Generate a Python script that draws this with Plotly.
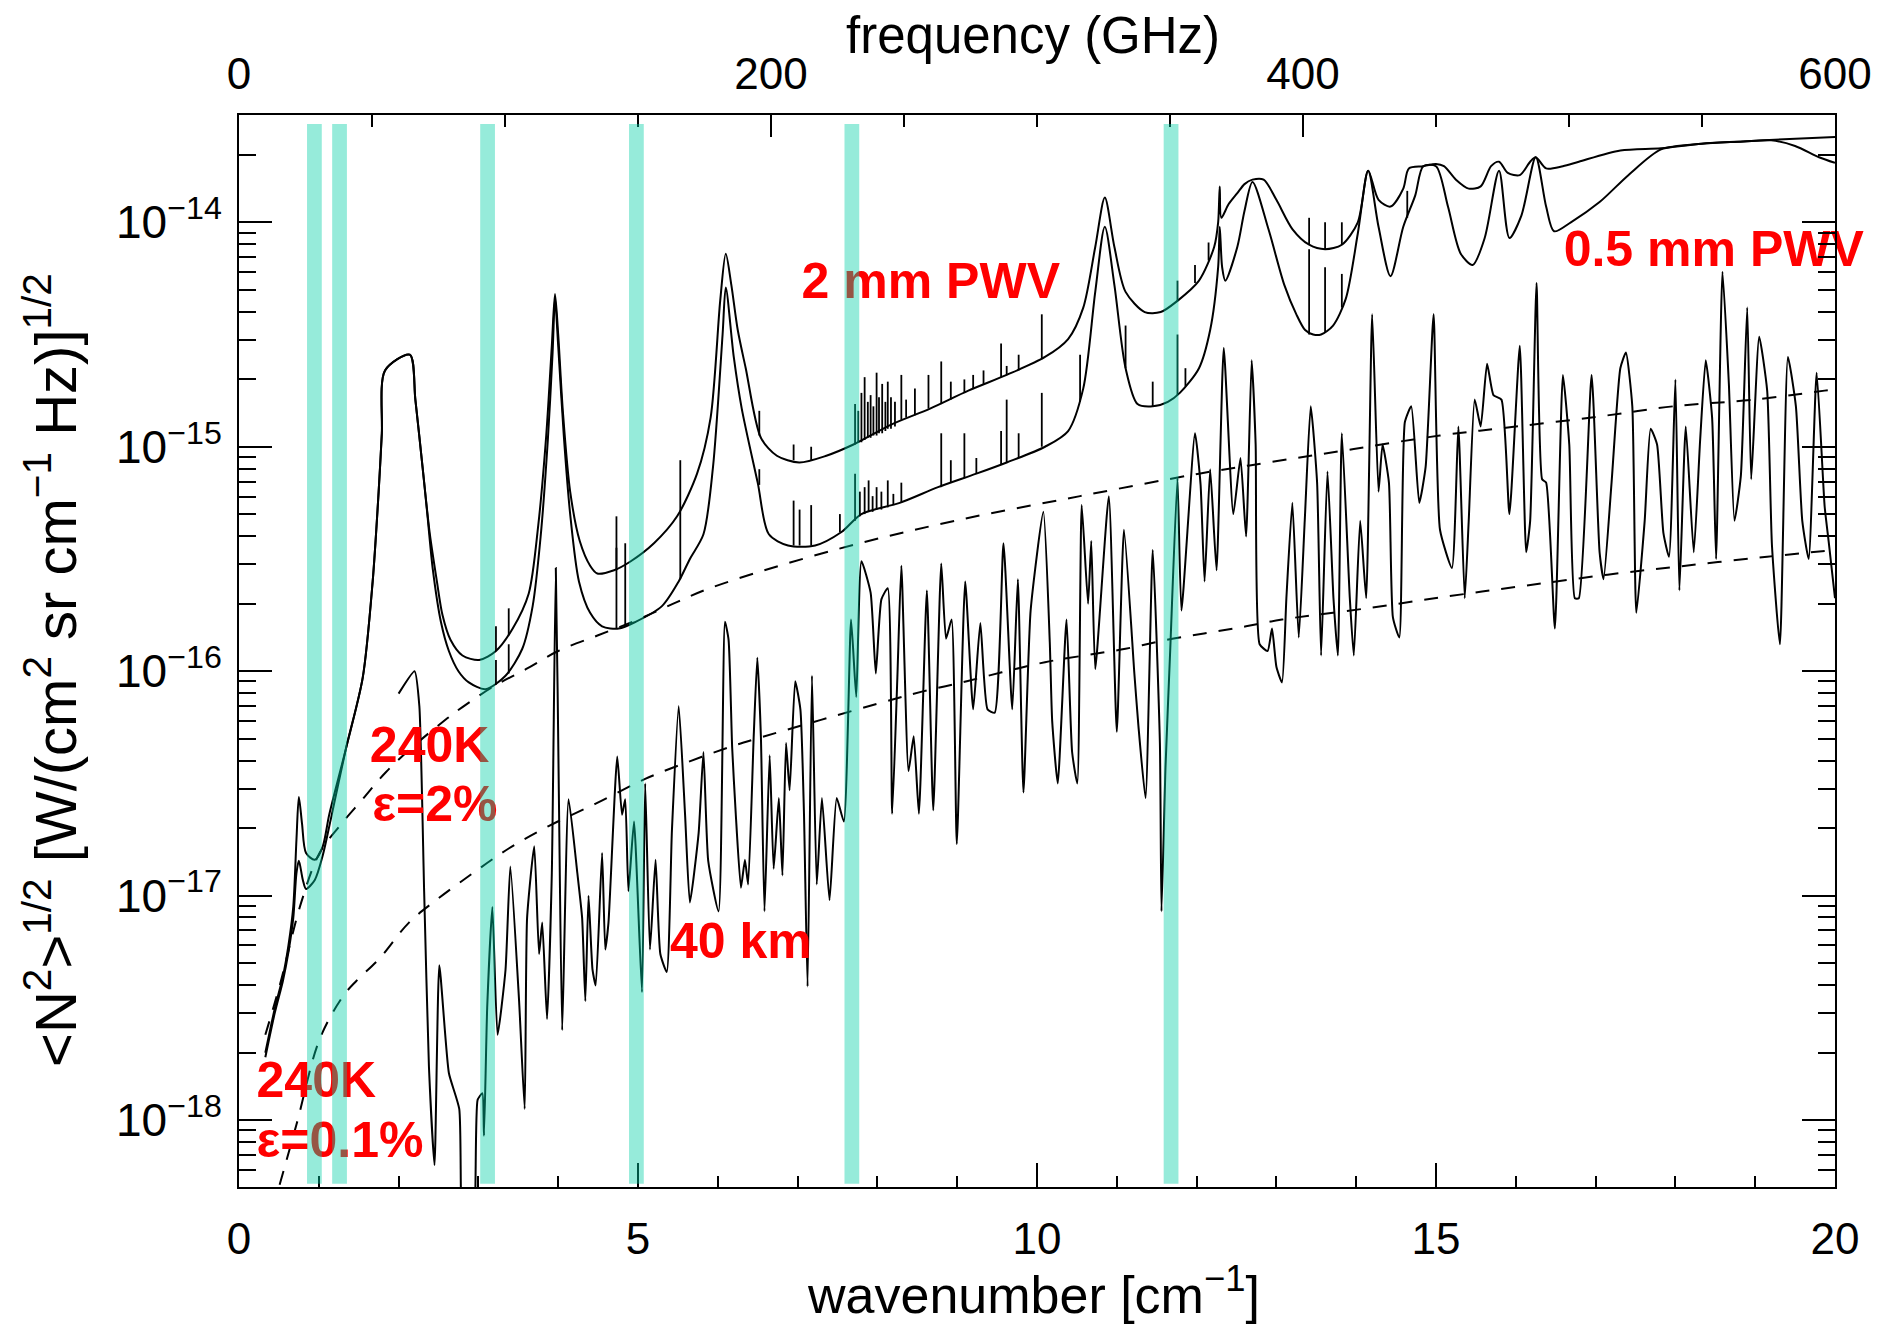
import numpy as np
import plotly.graph_objects as go

# ---------------- data (log10 of <N^2>^1/2) ----------------
# 2 mm PWV atmosphere
pwv2_wn = [0.33, 0.45, 0.55, 0.62, 0.68, 0.72, 0.75, 0.79, 0.84, 0.95, 1.05, 1.13, 1.34, 1.55, 1.675,
           1.75, 1.79, 1.83, 2.14, 2.21, 2.30, 2.39, 2.48, 2.55, 2.65, 2.80, 3.01, 3.22, 3.43, 3.63,
           3.75, 3.85, 3.92, 3.96, 4.00, 4.06, 4.15, 4.27, 4.40, 4.49, 4.70, 4.91, 5.20, 5.49, 5.74,
           5.91, 6.03, 6.10, 6.17, 6.25, 6.35, 6.54, 6.74, 7.02, 7.36, 7.70, 8.18, 8.66, 9.14, 9.62,
           10.10, 10.39, 10.58, 10.73, 10.85, 10.97, 11.11, 11.35, 11.55, 11.76, 12.03, 12.22, 12.27,
           12.29, 12.31, 12.40, 12.51, 12.60, 12.70, 12.84, 13.00, 13.20, 13.41, 13.61, 13.82, 14.02,
           14.15, 14.28, 14.43, 14.59, 14.66, 14.84, 15.00, 15.10, 15.25, 15.41, 15.56, 15.69, 15.79,
           15.90, 16.05, 16.18, 16.25, 16.38, 16.59, 16.79, 17.31, 17.82, 18.33, 18.85, 19.36, 20.0]
pwv2_log = [-17.70, -17.50, -17.36, -17.22, -17.05, -16.75, -16.56, -16.68, -16.81, -16.84, -16.78, -16.64,
            -16.345, -16.03, -15.60, -15.20, -14.94, -14.66, -14.59, -14.79, -15.09, -15.385, -15.60,
            -15.75, -15.86, -15.93, -15.95, -15.91, -15.81, -15.655, -15.35, -14.95, -14.55, -14.32,
            -14.50, -14.85, -15.20, -15.42, -15.53, -15.565, -15.55, -15.51, -15.43, -15.31, -15.12,
            -14.87, -14.35, -14.14, -14.28, -14.48, -14.65, -14.96, -15.04, -15.07, -15.04, -14.99,
            -14.90, -14.83, -14.75, -14.68, -14.60, -14.52, -14.38, -14.11, -13.89, -14.11, -14.31,
            -14.40, -14.40, -14.35, -14.26, -14.11, -14.00, -13.84, -13.98, -13.92, -13.87, -13.83,
            -13.81, -13.81, -13.90, -14.03, -14.10, -14.12, -14.10, -14.00, -13.77, -13.90, -13.93,
            -13.85, -13.76, -13.75, -13.74, -13.75, -13.81, -13.85, -13.84, -13.75, -13.73, -13.78,
            -13.79, -13.73, -13.71, -13.76, -13.75, -13.73, -13.68, -13.67, -13.65, -13.64, -13.63, -13.62]

# 0.5 mm PWV atmosphere
pwv05_wn = [0.33, 0.45, 0.55, 0.62, 0.68, 0.72, 0.75, 0.80, 0.84, 0.95, 1.05, 1.15, 1.34, 1.55, 1.675,
            1.75, 1.79, 1.83, 2.14, 2.21, 2.30, 2.36, 2.43, 2.53, 2.63, 2.75, 2.88, 3.09, 3.34, 3.55,
            3.68, 3.78, 3.87, 3.93, 3.96, 4.00, 4.07, 4.15, 4.26, 4.40, 4.55, 4.76, 4.97, 5.30, 5.51,
            5.65, 5.82, 5.94, 6.06, 6.10, 6.20, 6.30, 6.50, 6.64, 6.88, 7.22, 7.55, 7.80, 8.28, 8.76,
            9.24, 9.62, 10.10, 10.39, 10.58, 10.73, 10.85, 10.97, 11.11, 11.26, 11.45, 11.64, 11.79,
            12.03, 12.17, 12.27, 12.29, 12.32, 12.36, 12.51, 12.60, 12.70, 12.90, 13.10, 13.25, 13.36,
            13.46, 13.56, 13.71, 13.87, 14.02, 14.15, 14.28, 14.43, 14.59, 14.74, 14.84, 15.00, 15.15,
            15.31, 15.46, 15.61, 15.79, 15.92, 16.07, 16.25, 16.38, 16.48, 16.69, 17.05, 17.41, 17.82,
            18.33, 18.85, 19.20, 19.50, 19.80, 20.0]
pwv05_log = [-17.72, -17.52, -17.38, -17.25, -17.10, -16.90, -16.845, -16.93, -16.97, -16.93, -16.82,
             -16.66, -16.345, -16.03, -15.60, -15.20, -14.94, -14.66, -14.59, -14.79, -15.09, -15.30,
             -15.55, -15.78, -15.91, -16.00, -16.05, -16.08, -16.02, -15.90, -15.71, -15.40, -14.97,
             -14.58, -14.34, -14.55, -14.95, -15.30, -15.60, -15.74, -15.80, -15.81, -15.78, -15.71,
             -15.60, -15.50, -15.39, -15.09, -14.50, -14.29, -14.60, -14.83, -15.16, -15.39, -15.44,
             -15.44, -15.38, -15.30, -15.25, -15.18, -15.12, -15.07, -15.00, -14.93, -14.74, -14.31,
             -14.02, -14.28, -14.65, -14.81, -14.82, -14.80, -14.76, -14.65, -14.48, -14.20, -14.02,
             -14.20, -14.26, -14.11, -13.95, -13.82, -14.03, -14.28, -14.41, -14.48, -14.50, -14.50,
             -14.46, -14.34, -14.05, -13.77, -14.02, -14.24, -14.02, -13.88, -13.75, -13.75, -13.93,
             -14.14, -14.19, -14.07, -13.77, -14.07, -13.97, -13.71, -13.93, -14.04, -14.00, -13.91,
             -13.79, -13.675, -13.65, -13.64, -13.635, -13.66, -13.71, -13.735]

# narrow telluric lines: position, foot, top (log10)
spk2_wn = [3.22, 3.38, 4.73, 6.52, 6.95, 7.17, 7.72, 7.76, 7.80, 7.84, 7.88, 7.915, 7.95, 7.99, 8.02,
           8.06, 8.10, 8.13, 8.17, 8.22, 8.30, 8.36, 8.47, 8.64, 8.80, 8.92, 9.09, 9.20, 9.33, 9.55,
           9.62, 9.77, 9.89, 10.06, 11.76, 11.98, 12.15, 13.41, 13.61, 13.82]
spk2_lo = [-15.91, -15.84, -15.55, -14.95, -15.06, -15.06, -14.99, -14.98, -14.98, -14.97, -14.96, -14.96,
           -14.95, -14.95, -14.94, -14.94, -14.93, -14.92, -14.92, -14.91, -14.88, -14.87, -14.86, -14.83,
           -14.81, -14.79, -14.76, -14.74, -14.72, -14.69, -14.68, -14.66, -14.64, -14.61, -14.35, -14.27,
           -14.17, -14.10, -14.12, -14.10]
spk2_hi = [-15.80, -15.72, -15.31, -14.84, -14.99, -15.00, -14.81, -14.84, -14.76, -14.69, -14.80, -14.77,
           -14.82, -14.67, -14.78, -14.72, -14.80, -14.71, -14.78, -14.80, -14.68, -14.79, -14.74, -14.68,
           -14.62, -14.71, -14.70, -14.68, -14.66, -14.54, -14.64, -14.59, -14.64, -14.41, -14.26, -14.19,
           -14.09, -13.98, -14.00, -14.00]
spk05_wn = [3.22, 3.38, 4.73, 4.84, 5.53, 6.52, 6.95, 7.025, 7.17, 7.53, 7.72, 7.78, 7.84, 7.89, 7.94,
            7.99, 8.05, 8.13, 8.20, 8.30, 8.80, 8.92, 9.09, 9.24, 9.55, 9.62, 9.77, 10.06, 10.54, 11.11,
            11.45, 11.76, 11.86, 13.41, 13.61, 13.82, 14.64]
spk05_lo = [-16.06, -16.01, -15.81, -15.80, -15.59, -15.17, -15.44, -15.44, -15.44, -15.38, -15.33, -15.31,
            -15.30, -15.29, -15.29, -15.28, -15.28, -15.27, -15.26, -15.25, -15.18, -15.16, -15.14, -15.12,
            -15.08, -15.07, -15.05, -15.00, -14.80, -14.65, -14.82, -14.77, -14.73, -14.50, -14.49, -14.38,
            -13.98]
spk05_hi = [-15.95, -15.88, -15.45, -15.43, -15.06, -15.10, -15.24, -15.28, -15.26, -15.30, -15.12, -15.20,
            -15.18, -15.15, -15.22, -15.18, -15.20, -15.15, -15.21, -15.16, -14.94, -15.06, -14.94, -15.05,
            -14.93, -14.79, -14.94, -14.76, -14.59, -14.46, -14.71, -14.50, -14.65, -14.12, -14.20, -14.23,
            -13.86]

# 40 km altitude
km40_wn = [2.00, 2.20, 2.26, 2.32, 2.38, 2.45, 2.51, 2.63, 2.76, 2.82, 2.92, 2.99, 3.05, 3.07, 3.11, 3.175,
           3.24, 3.34, 3.40, 3.51, 3.58, 3.61, 3.70, 3.76, 3.80, 3.86, 3.92, 3.97, 4.01, 4.05, 4.13, 4.24,
           4.30, 4.34, 4.38, 4.43, 4.47, 4.55, 4.59, 4.63, 4.74, 4.80, 4.84, 4.88, 4.95, 5.05, 5.09, 5.15,
           5.22, 5.28, 5.36, 5.425, 5.51, 5.59, 5.65, 5.76, 5.82, 5.88, 6.01, 6.09, 6.135, 6.18, 6.225,
           6.29, 6.34, 6.38, 6.45, 6.495, 6.54, 6.585, 6.65, 6.70, 6.765, 6.81, 6.855, 6.90, 6.97, 7.035,
           7.08, 7.125, 7.18, 7.24, 7.305, 7.40, 7.49, 7.58, 7.67, 7.735, 7.80, 7.915, 7.98, 8.05, 8.13,
           8.185, 8.25, 8.30, 8.39, 8.455, 8.52, 8.62, 8.70, 8.80, 8.86, 8.93, 8.995, 9.10, 9.20, 9.29,
           9.38, 9.47, 9.58, 9.69, 9.76, 9.83, 9.92, 10.08, 10.16, 10.19, 10.26, 10.37, 10.44, 10.505,
           10.56, 10.64, 10.68, 10.73, 10.90, 11.00, 11.09, 11.22, 11.27, 11.36, 11.45, 11.54, 11.56,
           11.61, 11.67, 11.76, 11.81, 11.98, 12.05, 12.10, 12.17, 12.25, 12.34, 12.46, 12.55, 12.62,
           12.69, 12.74, 12.79, 12.89, 12.945, 13.00, 13.07, 13.125, 13.20, 13.28, 13.355, 13.43, 13.51,
           13.56, 13.64, 13.715, 13.77, 13.82, 13.92, 13.97, 14.05, 14.125, 14.20, 14.28, 14.33, 14.41,
           14.46, 14.54, 14.61, 14.69, 14.79, 14.87, 14.97, 15.05, 15.20, 15.28, 15.36, 15.41, 15.485,
           15.56, 15.64, 15.72, 15.82, 15.92, 16.05, 16.13, 16.18, 16.26, 16.33, 16.38, 16.49, 16.59,
           16.67, 16.74, 16.79, 16.95, 17.05, 17.10, 17.20, 17.31, 17.38, 17.46, 17.51, 17.615, 17.69,
           17.77, 17.85, 17.92, 18.00, 18.05, 18.13, 18.23, 18.31, 18.38, 18.46, 18.51, 18.59, 18.67,
           18.74, 18.82, 18.90, 18.95, 19.05, 19.15, 19.21, 19.31, 19.41, 19.51, 19.59, 19.67, 19.77,
           19.87, 19.92, 20.00]
km40_log = [-16.10, -16.00, -16.155, -16.98, -17.76, -18.20, -17.31, -17.79, -17.95, -18.60, -18.60, -17.91,
            -17.88, -18.07, -17.50, -17.05, -17.62, -17.33, -16.87, -17.47, -17.95, -17.10, -16.78, -17.26,
            -17.12, -17.55, -16.90, -15.54, -16.60, -17.60, -16.57, -16.90, -17.10, -17.47, -17.00, -17.33,
            -17.40, -16.81, -17.24, -17.12, -16.38, -16.64, -16.57, -16.98, -16.67, -17.43, -16.50, -17.24,
            -16.84, -17.26, -17.34, -16.71, -16.155, -16.64, -17.03, -16.72, -16.36, -16.845, -17.07,
            -15.78, -15.86, -16.34, -16.635, -16.965, -16.84, -16.95, -16.29, -15.94, -16.29, -17.07,
            -16.375, -16.88, -16.565, -16.91, -16.32, -16.53, -16.045, -16.17, -16.635, -17.405, -16.02,
            -16.95, -16.565, -17.02, -16.565, -16.67, -15.77, -16.115, -15.51, -15.65, -16.01, -15.68,
            -15.63, -16.635, -16.03, -15.53, -16.445, -16.29, -16.635, -15.64, -16.62, -15.52, -15.855,
            -15.77, -16.77, -15.60, -16.17, -15.785, -16.17, -16.185, -15.43, -16.17, -15.59, -16.54,
            -15.73, -15.29, -15.87, -16.22, -16.50, -15.77, -16.36, -16.50, -15.26, -15.70, -15.42, -15.99,
            -15.22, -16.27, -15.37, -16.01, -16.24, -16.565, -15.46, -16.32, -17.07, -16.43, -15.90, -15.14,
            -15.73, -14.94, -15.17, -15.60, -15.10, -15.55, -14.56, -15.30, -15.05, -15.40, -14.615, -14.99,
            -15.88, -15.91, -15.81, -15.98, -16.05, -15.675, -15.25, -15.85, -15.33, -14.82, -15.16, -15.93,
            -15.11, -15.675, -15.93, -14.94, -15.675, -15.93, -15.33, -15.675, -14.41, -15.20, -14.99,
            -15.16, -15.76, -15.85, -14.89, -14.82, -15.25, -15.09, -14.41, -15.37, -15.54, -14.91, -15.675,
            -15.33, -14.79, -14.91, -14.63, -14.77, -14.79, -15.30, -14.55, -15.47, -15.33, -14.27, -15.145,
            -15.16, -15.81, -14.68, -14.99, -15.675, -15.675, -14.68, -15.47, -15.59, -15.16, -14.65, -14.58,
            -14.82, -15.74, -15.33, -14.92, -14.99, -15.385, -15.49, -14.70, -15.64, -14.91, -15.47, -14.97,
            -14.615, -14.87, -15.50, -14.22, -14.72, -15.33, -15.13, -14.38, -15.145, -14.51, -14.75, -15.44,
            -15.88, -14.60, -14.82, -15.33, -15.50, -14.67, -15.265, -15.42, -15.675]

# 240 K emission, emissivity 2 %  and 0.1 %
bb2_wn = [0.33, 0.51, 0.78, 1.01, 1.26, 1.55, 1.84, 2.20, 2.61, 2.80, 3.18, 3.60, 4.00, 4.50, 5.00, 5.50,
          5.94, 7.46, 8.97, 10.54, 12.03, 12.99, 13.97, 15.05, 16.00, 17.05, 17.97, 19.00, 19.87, 20.0]
bb2_log = [-17.62, -17.40, -17.03, -16.81, -16.69, -16.57, -16.45, -16.33, -16.21, -16.16, -16.07, -15.99,
           -15.91, -15.84, -15.77, -15.69, -15.625, -15.46, -15.33, -15.22, -15.12, -15.065, -15.01, -14.95,
           -14.91, -14.865, -14.82, -14.79, -14.75, -14.745]
bb01_wn = [0.42, 0.72, 1.01, 1.30, 1.47, 1.76, 2.13, 2.47, 2.93, 3.38, 3.88, 4.47, 5.09, 5.51, 6.13, 6.49,
           8.05, 8.57, 9.06, 9.56, 10.10, 10.59, 11.11, 11.63, 12.13, 12.62, 13.07, 14.13, 15.14, 16.10,
           17.15, 18.13, 19.15, 20.0]
bb01_log = [-18.40, -18.02, -17.64, -17.45, -17.38, -17.28, -17.12, -17.02, -16.90, -16.79, -16.69, -16.59,
            -16.48, -16.42, -16.34, -16.30, -16.14, -16.09, -16.05, -16.005, -15.96, -15.93, -15.90, -15.86,
            -15.83, -15.80, -15.77, -15.72, -15.667, -15.62, -15.57, -15.53, -15.49, -15.46]

# detector bands (wavenumber centres)
band_centers = [0.945, 1.26, 3.115, 4.98, 7.68, 11.68]
band_width = 0.185

# labels
label_text = ["<b>2 mm PWV</b>", "<b>0.5 mm PWV</b>", "<b>240K</b>", "<b>ε=2%</b>",
              "<b>240K</b>", "<b>ε=0.1%</b>", "<b>40 km</b>"]
label_wn = [7.05, 16.6, 1.64, 1.67, 0.22, 0.22, 5.40]
label_log = [-14.28, -14.14, -16.35, -16.61, -17.84, -18.11, -17.22]

ytick_exp = [-18, -17, -16, -15, -14]
xtick_vals = [0, 5, 10, 15, 20]
ftick_vals = [0, 200, 400, 600]

# ---------------- figure ----------------
FONT = "Liberation Sans, Arial, Helvetica, sans-serif"
fig = go.Figure()
p = lambda v: (10 ** np.array(v, dtype=float)).tolist()
dash = dict(color="black", width=2, dash="14px,12px")

fig.add_trace(go.Scatter(x=bb2_wn, y=p(bb2_log), mode="lines", line=dash, line_shape="spline"))
fig.add_trace(go.Scatter(x=bb01_wn, y=p(bb01_log), mode="lines", line=dash, line_shape="spline"))
fig.add_trace(go.Scatter(x=km40_wn, y=p(km40_log), mode="lines",
                         line=dict(color="black", width=2, shape="spline", smoothing=0.5)))
fig.add_trace(go.Scatter(x=pwv05_wn, y=p(pwv05_log), mode="lines",
                         line=dict(color="black", width=2, shape="spline", smoothing=0.8)))
fig.add_trace(go.Scatter(x=pwv2_wn, y=p(pwv2_log), mode="lines",
                         line=dict(color="black", width=2, shape="spline", smoothing=0.8)))


def spikes(xs, lo, hi):
    sx, sy = [], []
    for a, b, c in zip(xs, lo, hi):
        sx += [a, a, None]
        sy += [10 ** b, 10 ** c, None]
    return sx, sy


for xs, lo, hi in [(spk2_wn, spk2_lo, spk2_hi), (spk05_wn, spk05_lo, spk05_hi)]:
    sx, sy = spikes(xs, lo, hi)
    fig.add_trace(go.Scatter(x=sx, y=sy, mode="lines", line=dict(color="black", width=1.8)))

fig.add_trace(go.Scatter(x=label_wn, y=p(label_log), mode="text", text=label_text,
                         textposition="middle right", cliponaxis=False,
                         textfont=dict(family=FONT, size=50, color="#ff0000")))
# carrier for the frequency axis (top) and mirrored right axis
fig.add_trace(go.Scatter(x=ftick_vals, y=[1e-16] * len(ftick_vals), xaxis="x2", yaxis="y2",
                         mode="markers", marker=dict(opacity=0), hoverinfo="skip"))

for c in band_centers:
    fig.add_shape(type="rect", xref="x", yref="paper", x0=c - band_width / 2, x1=c + band_width / 2,
                  y0=0.003, y1=0.9916, fillcolor="rgba(0,206,165,0.41)", line=dict(width=0),
                  layer="above")

tickfont = dict(family=FONT, size=44, color="black")
ytickfont = dict(family=FONT, size=46, color="black")
minor_y = dict(tickvals=[k * 10.0 ** e for e in range(-19, -12) for k in range(2, 10)],
               ticks="inside", ticklen=17, tickwidth=2, tickcolor="black", showgrid=False)
yrange = [-18.298, -13.522]
fig.update_layout(
    width=1894, height=1326, showlegend=False,
    paper_bgcolor="white", plot_bgcolor="white",
    margin=dict(l=239, r=59, t=115, b=139),
    xaxis=dict(range=[0, 20], tickvals=xtick_vals, ticks="inside", ticklen=24, tickwidth=2,
               tickcolor="black", showline=True, linecolor="black", linewidth=2, mirror=False,
               showgrid=False, zeroline=False, tickfont=tickfont, ticklabelstandoff=12,
               minor=dict(dtick=1, ticks="inside", ticklen=11, tickwidth=2, tickcolor="black",
                          showgrid=False)),
    xaxis2=dict(overlaying="x", side="top", anchor="y", range=[0, 600], tickvals=ftick_vals,
                ticks="inside", ticklen=22, tickwidth=2, tickcolor="black", showline=True,
                linecolor="black", linewidth=2, showgrid=False, zeroline=False, tickfont=tickfont,
                ticklabelstandoff=6,
                minor=dict(dtick=50, ticks="inside", ticklen=12, tickwidth=2, tickcolor="black",
                           showgrid=False)),
    yaxis=dict(type="log", range=yrange,
               tickvals=[10.0 ** e for e in ytick_exp],
               ticktext=["10<sup>−%d</sup>" % (-e) for e in ytick_exp],
               ticks="inside", ticklen=33, tickwidth=2, tickcolor="black", showline=True,
               linecolor="black", linewidth=2, mirror=False, showgrid=False, zeroline=False,
               tickfont=ytickfont, ticklabelstandoff=6, minor=minor_y),
    yaxis2=dict(type="log", range=yrange, overlaying="y", side="right", anchor="x",
                tickvals=[10.0 ** e for e in ytick_exp], showticklabels=False,
                ticks="inside", ticklen=33, tickwidth=2, tickcolor="black", showline=True,
                linecolor="black", linewidth=2, showgrid=False, zeroline=False, minor=minor_y),
    annotations=[
        dict(text="wavenumber [cm<sup>−1</sup>]", xref="paper", yref="paper", x=0.4975, y=-0.097,
             xanchor="center", yanchor="middle", showarrow=False,
             font=dict(family=FONT, size=52, color="black")),
        dict(text="frequency (GHz)", xref="paper", yref="paper", x=0.4975, y=1.0737,
             xanchor="center", yanchor="middle", showarrow=False,
             font=dict(family=FONT, size=51, color="black")),
        dict(text="&lt;N<sup>2</sup>&gt;<sup>1/2</sup> [W/(cm<sup>2</sup> sr cm<sup>−1</sup> Hz)]<sup>1/2</sup>",
             xref="paper", yref="paper", x=-0.118, y=0.482, xanchor="center", yanchor="middle",
             textangle=-90, showarrow=False, font=dict(family=FONT, size=58, color="black")),
    ],
)

fig.write_html("out.html")
